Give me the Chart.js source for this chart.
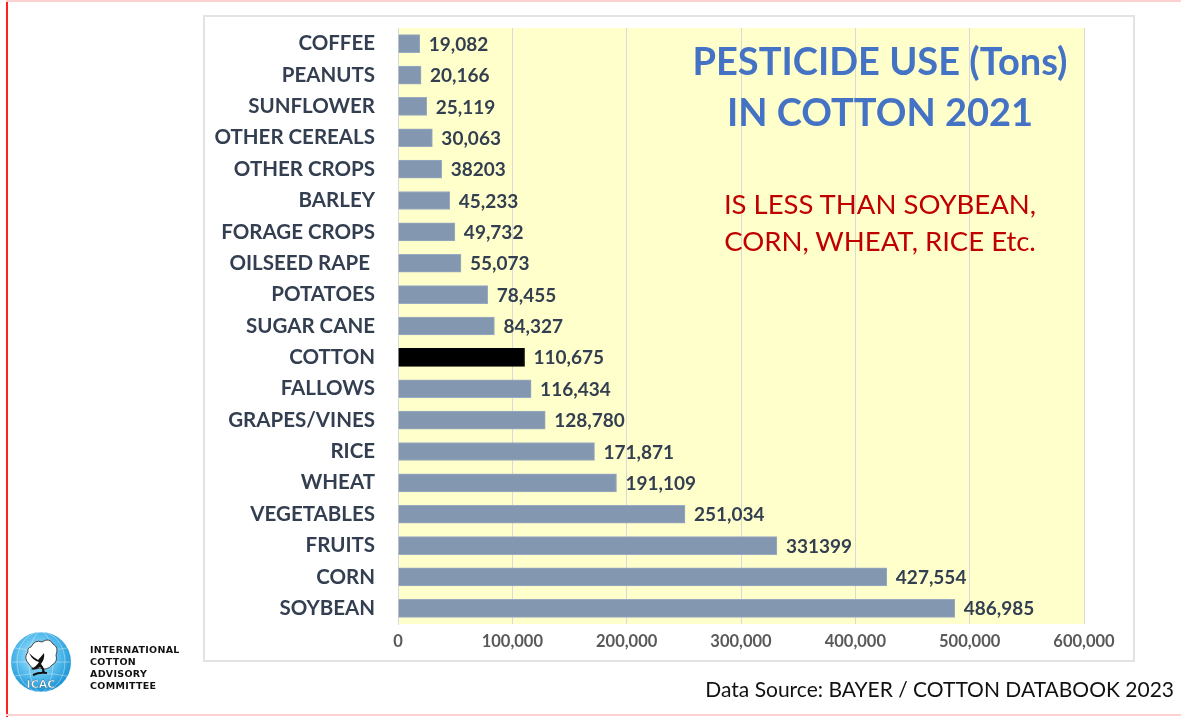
<!DOCTYPE html>
<html>
<head>
<meta charset="utf-8">
<title>Pesticide use in cotton 2021</title>
<script src="https://cdn.jsdelivr.net/npm/chart.js@4.4.1/dist/chart.umd.min.js"></script>
<style>
  html, body { margin: 0; padding: 0; background: #ffffff; }
  #page { position: relative; width: 1181px; height: 717px; overflow: hidden; font-family: Lato, "Open Sans", sans-serif; }
  .frame-left { position: absolute; left: 6px; top: 0; width: 2px; height: 717px; background: #ff2020; }
  .frame-top { position: absolute; left: 6px; top: 0; width: 1175px; height: 2px; background: #ffd0d0; }
  .frame-bottom { position: absolute; left: 6px; top: 714px; width: 1175px; height: 2px; background: #ffd0d0; }
  #box { position: absolute; left: 203px; top: 15px; width: 928px; height: 643px; border: 2px solid #e3e3e3; background: #fff; }
  #wrap { position: absolute; left: 0; top: 0; width: 1181px; height: 717px; }
  .title { position: absolute; left: 640px; width: 480px; text-align: center; color: #4472c4; font-weight: 700; font-size: 38px; line-height: 44px; }
  .note { position: absolute; left: 640px; width: 480px; text-align: center; color: #c00000; font-weight: 400; font-size: 27.5px; line-height: 32px; }
  .source { position: absolute; right: 7px; top: 676px; font-size: 21px; color: #111; white-space: nowrap; }
  .org { position: absolute; left: 90px; top: 644px; font-family: "DejaVu Sans", sans-serif; font-weight: 700; font-size: 9.5px; line-height: 12px; color: #111; letter-spacing: 0.3px; }
  #logo { position: absolute; left: 9px; top: 631px; }
</style>
</head>
<body>
<div id="page">
  <div id="box"></div>
  <div id="wrap"><canvas id="chart" width="1181" height="717"></canvas></div>
  <div class="title" style="top:38px;">PESTICIDE USE (Tons)</div>
  <div class="title" style="top:89px;">IN COTTON 2021</div>
  <div class="note" style="top:188px;">IS LESS THAN SOYBEAN,</div>
  <div class="note" style="top:225px;">CORN, WHEAT, RICE Etc.</div>
  <div class="source">Data Source: BAYER / COTTON DATABOOK 2023</div>

  <svg id="logo" width="64" height="64" viewBox="0 0 64 64">
    <defs>
      <radialGradient id="globe" cx="45%" cy="40%" r="60%">
        <stop offset="0%" stop-color="#c8ecfb"/>
        <stop offset="55%" stop-color="#5cc0ee"/>
        <stop offset="100%" stop-color="#1b95d6"/>
      </radialGradient>
    </defs>
    <circle cx="32" cy="31" r="30" fill="url(#globe)"/>
    <g fill="none" stroke="#ffffff" stroke-opacity="0.45" stroke-width="0.8">
      <ellipse cx="32" cy="31" rx="12" ry="30"/>
      <ellipse cx="32" cy="31" rx="24" ry="30"/>
      <line x1="2" y1="31" x2="62" y2="31"/>
      <path d="M6 17 Q32 22 58 17"/>
      <path d="M6 45 Q32 40 58 45"/>
    </g>
    <path d="M22 16 Q26 8 33 11 Q40 6 44 13 Q50 16 47 24 Q49 31 43 34 Q38 40 31 37 Q24 40 20 33 Q14 27 19 21 Q18 17 22 16 Z" fill="#ffffff" stroke="#222" stroke-width="0.8"/>
    <path d="M20 22 Q24 30 30 31 Q27 36 22 38 Q25 40 31 36 Q34 38 33 42 L36 42 Q35 36 32 33 Q36 28 35 22 Q31 27 29 29 Q25 27 20 22 Z" fill="#111"/>
    <path d="M24 44 Q30 41 38 42" stroke="#111" stroke-width="2.2" fill="none"/>
    <text x="32" y="57" text-anchor="middle" font-family="DejaVu Sans, sans-serif" font-weight="700" font-size="11" fill="#ffffff" stroke="#1a5d8a" stroke-width="0.4">ICAC</text>
  </svg>
  <div class="org">INTERNATIONAL<br>COTTON<br>ADVISORY<br>COMMITTEE</div>

  <div class="frame-left"></div>
  <div class="frame-top"></div>
  <div class="frame-bottom"></div>
</div>

<script>
// Crop categories, top to bottom
const crops = [
  'COFFEE', 'PEANUTS', 'SUNFLOWER', 'OTHER CEREALS', 'OTHER CROPS', 'BARLEY',
  'FORAGE CROPS', 'OILSEED RAPE ', 'POTATOES', 'SUGAR CANE', 'COTTON', 'FALLOWS',
  'GRAPES/VINES', 'RICE', 'WHEAT', 'VEGETABLES', 'FRUITS', 'CORN', 'SOYBEAN'
];

// Pesticide use in tons, 2021
const tons = [
  19082, 20166, 25119, 30063, 38203, 45233,
  49732, 55073, 78455, 84327, 110675, 116434,
  128780, 171871, 191109, 251034, 331399, 427554, 486985
];

// Crops whose value label is printed without a thousands separator
const plainLabels = ['OTHER CROPS', 'FRUITS'];

// Axis tick values
const xTicks = [0, 100000, 200000, 300000, 400000, 500000, 600000];

const highlight = 'COTTON';
const barColors = crops.map(c => c === highlight ? '#000000' : '#8497b0');
const borderColors = crops.map(c => c === highlight ? '#000000' : '#9aaac0');

const fmt = v => v.toLocaleString('en-US');

// Pale yellow plot background
const plotBackground = {
  id: 'plotBackground',
  beforeDraw(chart) {
    const { ctx, chartArea: a } = chart;
    ctx.save();
    ctx.fillStyle = '#ffffcc';
    ctx.fillRect(a.left, a.top, a.right - a.left, a.bottom - a.top);
    ctx.restore();
  }
};

// Value labels at the end of each bar
const valueLabels = {
  id: 'valueLabels',
  afterDatasetsDraw(chart) {
    const { ctx } = chart;
    const meta = chart.getDatasetMeta(0);
    ctx.save();
    ctx.font = '700 19px Lato, "Open Sans", sans-serif';
    ctx.fillStyle = '#333f50';
    ctx.textAlign = 'left';
    ctx.textBaseline = 'middle';
    meta.data.forEach((bar, i) => {
      const v = chart.data.datasets[0].data[i];
      const txt = plainLabels.includes(crops[i]) ? String(v) : fmt(v);
      ctx.fillText(txt, bar.x + 9, bar.y + 1);
    });
    ctx.restore();
  }
};

new Chart(document.getElementById('chart'), {
  type: 'bar',
  data: {
    labels: crops,
    datasets: [{
      data: tons,
      backgroundColor: barColors,
      borderColor: borderColors,
      borderWidth: 1,
      barThickness: 18
    }]
  },
  options: {
    indexAxis: 'y',
    responsive: false,
    animation: false,
    layout: { padding: { top: 28, right: 97, bottom: 0, left: 0 } },
    plugins: {
      legend: { display: false },
      tooltip: { enabled: false }
    },
    scales: {
      x: {
        min: 0,
        max: 600000,
        afterBuildTicks(scale) { scale.ticks = xTicks.map(v => ({ value: v })); },
        afterFit(scale) { scale.height = 93; },
        grid: { color: '#d9d9d9', lineWidth: 1, drawTicks: false },
        border: { display: false },
        ticks: {
          padding: 8,
          color: '#595959',
          font: { family: 'Lato, "Open Sans", sans-serif', size: 16.5, weight: '700' },
          callback: v => fmt(v)
        }
      },
      y: {
        afterFit(scale) {
          scale.width = 398;
          scale.paddingTop = 0;
          scale.paddingBottom = 0;
        },
        grid: { display: false, drawTicks: false },
        border: { display: true, color: '#d9d9d9', width: 1 },
        ticks: {
          padding: 23,
          color: '#333f50',
          font: { family: 'Lato, "Open Sans", sans-serif', size: 20.5, weight: '700' }
        }
      }
    }
  },
  plugins: [plotBackground, valueLabels]
});
</script>
</body>
</html>
